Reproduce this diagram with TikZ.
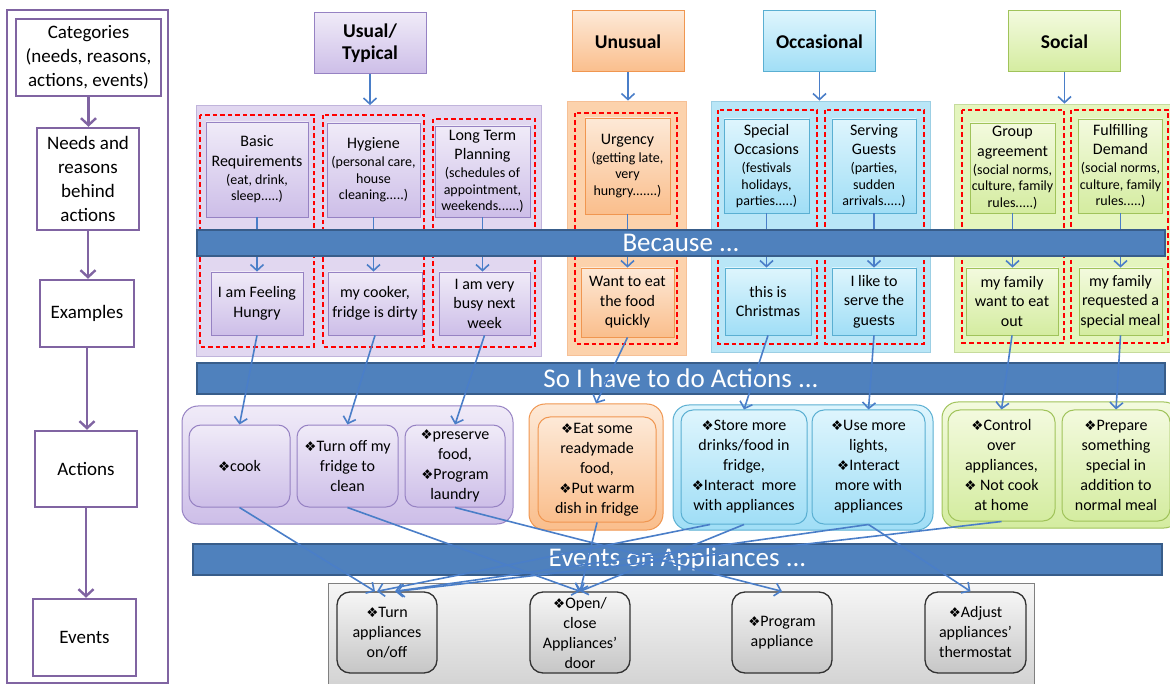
\documentclass[tikz,border=0pt]{standalone}
\usepackage{fontspec}
\setmainfont{Carlito}
\newfontfamily\symfont{DejaVu Sans}
\usetikzlibrary{arrows.meta}
\newcommand{\dia}{{\symfont\fontsize{13.5}{13.5}\selectfont ❖}}
\newcommand{\sm}{\fontsize{14}{16.5}\selectfont}
\definecolor{catpurple}{RGB}{128,100,162}
\definecolor{bandblue}{RGB}{79,129,189}
\definecolor{bandedge}{RGB}{56,93,138}
\definecolor{linkblue}{RGB}{74,126,200}
\definecolor{usualtop}{RGB}{240,235,248}
\definecolor{usualbot}{RGB}{205,190,232}
\definecolor{usualedge}{RGB}{150,130,195}
\definecolor{usualbg}{RGB}{225,215,240}
\definecolor{unustop}{RGB}{253,233,215}
\definecolor{unusbot}{RGB}{250,190,140}
\definecolor{unusedge}{RGB}{240,150,80}
\definecolor{unusbg}{RGB}{252,210,172}
\definecolor{occtop}{RGB}{222,245,253}
\definecolor{occbot}{RGB}{160,222,246}
\definecolor{occedge}{RGB}{90,175,210}
\definecolor{occbg}{RGB}{185,230,247}
\definecolor{soctop}{RGB}{243,250,222}
\definecolor{socbot}{RGB}{212,236,160}
\definecolor{socedge}{RGB}{160,195,90}
\definecolor{socbg}{RGB}{228,245,190}
\definecolor{evtop}{RGB}{246,246,246}
\definecolor{evbot}{RGB}{198,198,198}
\definecolor{evedge}{RGB}{50,50,50}
\tikzset{
    catbox/.style={draw=catpurple, line width=2.4pt, fill=white, align=center, inner sep=1pt, font=\fontsize{19}{24}\selectfont},
    catarrow/.style={draw=catpurple, line width=2.4pt, -{Straight Barb[length=7pt,width=15pt]}},
    head/.style={draw=#1edge, line width=1pt, top color=#1top, bottom color=#1bot, align=center, font=\bfseries\fontsize{19.5}{22}\selectfont, minimum width=112pt, minimum height=61pt},
    grp/.style={draw=#1edge!60, line width=0.8pt, fill=#1bg},
    reddash/.style={draw=red, line width=1.6pt, dash pattern=on 4.5pt off 3pt},
    reason/.style={draw=#1edge, line width=0.8pt, top color=#1top, bottom color=#1bot, align=center, inner sep=1pt, font=\fontsize{16}{19.5}\selectfont},
    band/.style={draw=bandedge, line width=1.6pt, fill=bandblue, text=white, font=\fontsize{27}{30}\selectfont},
    actgrp/.style={rounded corners=16pt, draw=#1edge, line width=1pt, top color=#1top, bottom color=#1bot},
    act/.style={rounded corners=12pt, draw=#1edge, line width=1pt, top color=#1top, bottom color=#1bot, align=center, inner sep=1pt, font=\fontsize{16}{20}\selectfont},
    evgrp/.style={draw=gray, line width=1pt, top color=evtop, bottom color=evbot!80!white},
    evbox/.style={rounded corners=13pt, draw=evedge, line width=1.3pt, top color=evtop, bottom color=evbot, align=center, inner sep=1pt, minimum width=100pt, minimum height=81pt, font=\fontsize{16}{20}\selectfont},
    link/.style={draw=linkblue, line width=1.6pt, -{Straight Barb[length=6pt,width=13pt]}}
}
\begin{document}
\begin{tikzpicture}[x=1pt,y=-1pt]
        \useasboundingbox (0,0) rectangle (1170,684);
        \draw[catpurple, line width=2.4pt] (7,10) rectangle (168,683);
        \node[catbox, minimum width=145pt, minimum height=77pt] (cat) at (88.5,57.5) {Categories\\(needs, reasons,\\actions, events)};
        \node[catbox, minimum width=102pt, minimum height=102pt] (needs) at (88,179) {Needs and\\reasons\\behind\\actions};
        \node[catbox, minimum width=94pt, minimum height=67pt] (examp) at (87,313.5) {Examples};
        \node[catbox, minimum width=102pt, minimum height=76pt] (actn) at (86,469) {Actions};
        \node[catbox, minimum width=103pt, minimum height=77pt] (evts) at (84.5,637.5) {Events};
        \draw[catarrow] (cat) -- (cat.south |- needs.north);
        \draw[catarrow] (needs) -- (needs.south |- examp.north);
        \draw[catarrow] (examp) -- (examp.south |- actn.north);
        \draw[catarrow] (actn) -- (actn.south |- evts.north);

        \node[head=usual] (usual) at (370,43) {Usual/\\Typical};
        \node[head=unus] (unusual) at (628,41.5) {Unusual};
        \node[head=occ] (occasional) at (819.5,41.5) {Occasional};
        \node[head=soc] (social) at (1064.5,41.5) {Social};

        \node[grp=usual, minimum width=345pt, minimum height=251pt] (usualgrp) at (369,231) {};
        \node[grp=unus, minimum width=119pt, minimum height=254pt] (unusgrp) at (626.5,228) {};
        \node[grp=occ, minimum width=219pt, minimum height=251pt] (occgrp) at (820.5,226.5) {};
        \node[grp=soc, minimum width=221pt, minimum height=248pt] (socgrp) at (1064.5,228) {};
        \draw[reddash] (200,115) rectangle (314,347);
        \draw[reddash] (323,115) rectangle (424,347);
        \draw[reddash] (433,119) rectangle (535,347);
        \draw[reddash] (575,113) rectangle (677,344);
        \draw[reddash] (718,110) rectangle (817,344);
        \draw[reddash] (825,110) rectangle (924,344);
        \draw[reddash] (962,110) rectangle (1064,343);
        \draw[reddash] (1071,110) rectangle (1168,343);

        \node[reason=usual, minimum width=102pt, minimum height=95pt] (basic) at (257,169.5) {Basic\\Requirements\\[-1.5pt]\sm(eat, drink,\\[-3pt]\sm sleep.....)};
        \node[reason=usual, minimum width=93pt, minimum height=94pt] (hygiene) at (373.5,170) {Hygiene\\[-1.5pt]\sm(personal care,\\[-3pt]\sm house\\[-3pt]\sm cleaning.....)};
        \node[reason=usual, minimum width=95pt, minimum height=91pt] (longterm) at (482.5,171.5) {Long Term\\Planning\\[-1.5pt]\sm(schedules of\\[-3pt]\sm appointment,\\[-3pt]\sm weekends......)};
        \node[reason=unus, minimum width=85pt, minimum height=96pt] (urgency) at (627.5,166) {Urgency\\[-1.5pt]\sm(getting late,\\[-3pt]\sm very\\[-3pt]\sm hungry.......)};
        \node[reason=occ, minimum width=85pt, minimum height=94pt] (special) at (766.5,166) {Special\\Occasions\\[-1.5pt]\sm(festivals\\[-3pt]\sm holidays,\\[-3pt]\sm parties.....)};
        \node[reason=occ, minimum width=84pt, minimum height=94pt] (serving) at (874,166) {Serving\\Guests\\[-1.5pt]\sm(parties,\\[-3pt]\sm sudden\\[-3pt]\sm arrivals.....)};
        \node[reason=soc, minimum width=85pt, minimum height=90pt] (groupagr) at (1012.5,168) {Group\\agreement\\[-1.5pt]\sm(social norms,\\[-3pt]\sm culture, family\\[-3pt]\sm rules.....)};
        \node[reason=soc, minimum width=83pt, minimum height=94pt] (fulfil) at (1120.5,166) {Fulfilling\\Demand\\[-1.5pt]\sm(social norms,\\[-3pt]\sm culture, family\\[-3pt]\sm rules.....)};

        \node[reason=usual, minimum width=92pt, minimum height=63pt] (hungry) at (257,303.5) {I am Feeling\\Hungry};
        \node[reason=usual, minimum width=94pt, minimum height=63pt] (cooker) at (375,303.5) {my cooker,\\fridge is dirty};
        \node[reason=usual, minimum width=91pt, minimum height=63pt] (busy) at (484.5,303.5) {I am very\\busy next\\week};
        \node[reason=unus, minimum width=93pt, minimum height=69pt] (wanteat) at (627.5,302.5) {Want to eat\\the food\\quickly};
        \node[reason=occ, minimum width=86pt, minimum height=67pt] (christmas) at (768,301.5) {this is\\Christmas};
        \node[reason=occ, minimum width=84pt, minimum height=67pt] (serve) at (874,301.5) {I like to\\serve the\\guests};
        \node[reason=soc, minimum width=92pt, minimum height=67pt] (family) at (1012,301.5) {my family\\want to eat\\out};
        \node[reason=soc, minimum width=83pt, minimum height=67pt] (requested) at (1120.5,301.5) {my family\\requested a\\special meal};

        \draw[link] (usual) -- (usual.south |- usualgrp.north);
        \draw[link] (unusual) -- (unusual.south |- unusgrp.north);
        \draw[link] (occasional) -- (occasional.south |- occgrp.north);
        \draw[link] (social) -- (social.south |- socgrp.north);
        \draw[link] (basic) -- (basic.south |- hungry.north);
        \draw[link] (hygiene) -- (hygiene.south |- cooker.north);
        \draw[link] (longterm) -- (longterm.south |- busy.north);
        \draw[link] (urgency) -- (urgency.south |- wanteat.north);
        \draw[link] (special) -- (special.south |- christmas.north);
        \draw[link] (serving) -- (serving.south |- serve.north);
        \draw[link] (groupagr) -- (groupagr.south |- family.north);
        \draw[link] (fulfil) -- (fulfil.south |- requested.north);
        \node[band, minimum width=968pt, minimum height=26pt] (because) at (681,243) {Because ...};

        \node[band, minimum width=968pt, minimum height=31pt] (doactions) at (681,378.5) {So I have to do Actions ...};
        \node[actgrp=usual, minimum width=331pt, minimum height=118pt] (usualact) at (347.5,465) {};
        \node[actgrp=unus, minimum width=134pt, minimum height=126pt] (unusact) at (596,467) {};
        \node[actgrp=occ, minimum width=260pt, minimum height=125pt] (occact) at (803,467.5) {};
        \node[actgrp=soc, minimum width=238pt, minimum height=126pt] (socact) at (1061,465) {};
        \node[act=usual, minimum width=101pt, minimum height=82pt] (cook) at (239.5,466) {\dia cook};
        \node[act=usual, minimum width=101pt, minimum height=82pt] (turnoff) at (347.5,466) {\dia Turn off my\\fridge to\\clean};
        \node[act=usual, minimum width=100pt, minimum height=82pt] (preserve) at (455,466) {\dia preserve\\food,\\\dia Program\\laundry};
        \node[act=unus, minimum width=118pt, minimum height=105pt] (eat) at (597,469.5) {\dia Eat some\\readymade\\food,\\\dia Put warm\\dish in fridge};
        \node[act=occ, minimum width=126pt, minimum height=114pt] (store) at (744,467) {\dia Store more\\drinks/food in\\fridge,\\\dia Interact\ \ more\\with appliances};
        \node[act=occ, minimum width=113pt, minimum height=114pt] (uselights) at (868.5,467) {\dia Use more\\lights,\\\dia Interact\\more with\\appliances};
        \node[act=soc, minimum width=107pt, minimum height=111pt] (control) at (1001.5,465.5) {\dia Control\\over\\appliances,\\\dia\ Not cook\\at home};
        \node[act=soc, minimum width=108pt, minimum height=111pt] (prepare) at (1116,465.5) {\dia Prepare\\something\\special in\\addition to\\normal meal};
        \draw[link] (hungry.south) -- (cook.north);
        \draw[link] (cooker.south) -- (turnoff.north);
        \draw[link] (busy.south) -- (preserve.north);
        \draw[link] (wanteat.south) -- (unusact.north);
        \draw[link] (christmas.south) -- (store.north);
        \draw[link] (serve.south) -- (uselights.north);
        \draw[link] (family.south) -- (control.north);
        \draw[link] (requested.south) -- (prepare.north);

        \node[band, minimum width=969pt, minimum height=31pt] (onappl) at (677.5,559.5) {Events on Appliances ...};
        \node[evgrp, minimum width=706pt, minimum height=107pt] (evgrp) at (681,636.5) {};
        \node[evbox] (turnon) at (387,632.5) {\dia Turn\\appliances\\on/off};
        \node[evbox] (opendoor) at (580,632.5) {\dia Open/\\close\\Appliances’\\door};
        \node[evbox] (program) at (782,632.5) {\dia Program\\appliance};
        \node[evbox, minimum width=101pt] (adjust) at (975.5,632.5) {\dia Adjust\\appliances’\\thermostat};
        \draw[link] (cook.south) -- ([xshift=-12pt]turnon.north);
        \draw[link] (turnoff.south) -- (opendoor.north);
        \draw[link] (preserve.south) -- (program.north);
        \draw[link] (eat.south) -- (opendoor.north);
        \draw[link] ([xshift=-34pt]store.south) -- ([xshift=-10pt]turnon.north);
        \draw[link] (store.south) -- (opendoor.north);
        \draw[link] (uselights.south) -- ([xshift=8pt]turnon.north);
        \draw[link] (uselights.south) -- ([xshift=-5pt]adjust.north);
        \draw[link] (control.south) -- ([xshift=10pt]turnon.north);
\end{tikzpicture}
\end{document}
